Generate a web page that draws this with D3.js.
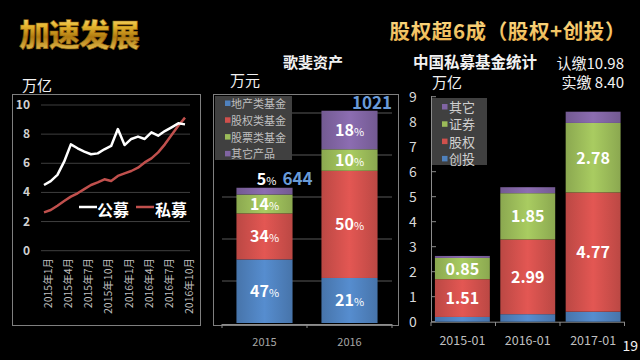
<!DOCTYPE html>
<html><head><meta charset="utf-8">
<script src="https://cdn.jsdelivr.net/npm/d3@7"></script>
<style>
html,body{margin:0;padding:0;background:#000;}
svg{display:block;}
text{font-family:"Noto Sans CJK SC","Noto Sans",sans-serif;}
</style></head>
<body>
<svg id="c" width="640" height="360"></svg>
<script>
// ---------- data ----------
const months = ["2015年1月","2015年2月","2015年3月","2015年4月","2015年5月","2015年6月","2015年7月","2015年8月","2015年9月","2015年10月","2015年11月","2015年12月","2016年1月","2016年2月","2016年3月","2016年4月","2016年5月","2016年6月","2016年7月","2016年8月","2016年9月","2016年10月"];
const monthTicks = ["2015年1月","2015年4月","2015年7月","2015年10月","2016年1月","2016年4月","2016年7月","2016年10月"];
const publicFund  = [4.51,4.78,5.2,6.11,7.3,7.03,6.8,6.62,6.68,6.96,7.19,8.35,7.25,7.67,7.83,7.67,8.12,7.89,8.21,8.47,8.74,8.67];
const privateFund = [2.63,2.79,3.09,3.41,3.71,3.94,4.23,4.51,4.69,4.9,4.78,5.13,5.31,5.47,5.7,6.06,6.34,6.75,7.3,7.94,8.58,9.13];
const lineTicks = [0,2,4,6,8,10];

const gfYears = ["2015","2016"];
const gfTotals = [644,1021];
const gfSeries = ["地产类基金","股权类基金","股票类基金","其它产品"];
const gfRealEstate = [47,21];
const gfEquity = [34,50];
const gfStock = [14,10];
const gfOther = [5,18];
const gfTicks = [0,200,400,600,800,1000];

const pfYears = ["2015-01","2016-01","2017-01"];
const pfSeries = ["创投","股权","证券","其它"];
const pfVC = [0.19,0.30,0.40];
const pfEquity = [1.51,2.99,4.77];
const pfSecurities = [0.85,1.85,2.78];
const pfOther = [0.08,0.24,0.45];
const pfTicks = [0,1,2,3,4,5,6,7,8,9];

// ---------- setup ----------
const svg = d3.select("#c");
const defs = svg.append("defs");
const gold = defs.append("linearGradient").attr("id","gold").attr("x1",0).attr("y1",0).attr("x2",0).attr("y2",1);
[["0%","#fff3b8"],["35%","#e8b830"],["60%","#b07a10"],["100%","#f5d466"]].forEach(s=>gold.append("stop").attr("offset",s[0]).attr("stop-color",s[1]));
const gold2 = defs.append("linearGradient").attr("id","gold2").attr("x1",0).attr("y1",0).attr("x2",0).attr("y2",1);
[["0%","#ffe08a"],["100%","#eab04a"]].forEach(s=>gold2.append("stop").attr("offset",s[0]).attr("stop-color",s[1]));

const colors = {blue:"#4f81bd", red:"#d0504c", green:"#9bbb59", purple:"#8064a2"};
function barGrad(id, base){
  const g = defs.append("linearGradient").attr("id",id).attr("x1",0).attr("y1",0).attr("x2",1).attr("y2",0);
  const c = d3.color(base);
  g.append("stop").attr("offset","0%").attr("stop-color",c.darker(0.3));
  g.append("stop").attr("offset","50%").attr("stop-color",c.brighter(0.25));
  g.append("stop").attr("offset","100%").attr("stop-color",c.darker(0.3));
}
barGrad("gb",colors.blue); barGrad("gr",colors.red); barGrad("gg",colors.green); barGrad("gp",colors.purple);
const fills = ["url(#gb)","url(#gr)","url(#gg)","url(#gp)"];
const solid = [colors.blue,colors.red,colors.green,colors.purple];

// ---------- titles ----------
svg.append("text").attr("x",19).attr("y",46).attr("font-size",31).attr("font-weight",900)
  .attr("fill","url(#gold)").attr("stroke","#8a5a08").attr("stroke-width",0.6).attr("letter-spacing",-1).text("加速发展");
svg.append("text").attr("x",626).attr("y",39).attr("text-anchor","end").attr("font-size",20.5).attr("font-weight",700)
  .attr("letter-spacing",0.6).attr("fill","url(#gold2)").text("股权超6成（股权+创投）");

// ---------- left: line chart ----------
svg.append("rect").attr("x",12.5).attr("y",94.5).attr("width",188).attr("height",231).attr("fill","none").attr("stroke","#7f7f7f");
svg.append("text").attr("x",22).attr("y",91).attr("font-size",15).attr("fill","#f2f2f2").text("万亿");
const lx = d3.scalePoint().domain(months).range([44,185]);
const ly = d3.scaleLinear().domain([0,10]).range([250.7,105]);
const lg = svg.append("g");
lg.selectAll("line.g").data(lineTicks).join("line").attr("x1",41).attr("x2",190)
  .attr("y1",d=>ly(d)).attr("y2",d=>ly(d)).attr("stroke","#3f3f3f").attr("stroke-width",1);
lg.selectAll("text.y").data(lineTicks).join("text").attr("x",30).attr("y",d=>ly(d)+4)
  .attr("text-anchor","end").attr("font-size",12).attr("font-weight",700).attr("fill","#d0d0d0").attr("font-family","Lato, sans-serif").text(d=>d);
lg.selectAll("text.x").data(monthTicks).join("text")
  .attr("transform",d=>`translate(${lx(d)+8},258) rotate(-90)`)
  .attr("text-anchor","end").attr("font-size",10.5).attr("fill","#bfbfbf").text(d=>d);
const line = d3.line().x((d,i)=>lx(months[i])).y(d=>ly(d));
lg.append("path").datum(privateFund).attr("d",line).attr("fill","none").attr("stroke","#c0504d").attr("stroke-width",2.5).attr("stroke-linejoin","round");
lg.append("path").datum(publicFund).attr("d",line).attr("fill","none").attr("stroke","#ffffff").attr("stroke-width",2.5).attr("stroke-linejoin","round");
// legend
lg.append("line").attr("x1",79).attr("x2",97).attr("y1",207).attr("y2",207).attr("stroke","#fff").attr("stroke-width",2.5);
lg.append("text").attr("x",97).attr("y",216).attr("font-size",16).attr("font-weight",700).attr("fill","#fff").text("公募");
lg.append("line").attr("x1",136).attr("x2",154).attr("y1",207).attr("y2",207).attr("stroke","#c0504d").attr("stroke-width",2.5);
lg.append("text").attr("x",155).attr("y",216).attr("font-size",16).attr("font-weight",700).attr("fill","#fff").text("私募");

// ---------- middle: 歌斐资产 ----------
svg.append("text").attr("x",313).attr("y",68).attr("text-anchor","middle").attr("font-size",15).attr("font-weight",700).attr("fill","#f2f2f2").text("歌斐资产");
svg.append("text").attr("x",230).attr("y",86).attr("font-size",15).attr("fill","#f2f2f2").text("万元");
svg.append("rect").attr("x",213.5).attr("y",94.5).attr("width",185).attr("height",231).attr("fill","none").attr("stroke","#7f7f7f");
const mx = d3.scaleBand().domain(gfYears).range([222,392]).paddingInner(0.34).paddingOuter(0.17);
const my = d3.scaleLinear().domain([0,1000]).range([323,113]);
const mg = svg.append("g");
mg.selectAll("line.g").data(gfTicks.slice(1)).join("line").attr("x1",222).attr("x2",392)
  .attr("y1",d=>my(d)).attr("y2",d=>my(d)).attr("stroke","#595959");
mg.append("line").attr("x1",222).attr("x2",392).attr("y1",324.5).attr("y2",324.5).attr("stroke","#8c8c8c");
mg.selectAll("line.t").data([222,307,392]).join("line").attr("x1",d=>d).attr("x2",d=>d).attr("y1",324).attr("y2",328).attr("stroke","#8c8c8c");
const gfPctArr = [gfRealEstate,gfEquity,gfStock,gfOther];
const gfRows = gfYears.map((y,i)=>{const r={year:y}; gfSeries.forEach((s,k)=>r[s]=gfPctArr[k][i]*gfTotals[i]/100); return r;});
const gfStack = d3.stack().keys(gfSeries)(gfRows);
gfStack.forEach((layer,k)=>{
  mg.selectAll(null).data(layer).join("rect")
    .attr("x",d=>mx(d.data.year)).attr("width",mx.bandwidth())
    .attr("y",d=>my(d[1])).attr("height",d=>my(d[0])-my(d[1])).attr("fill",fills[k]);
});
function pctLabel(g,x,y,v){
  const t=g.append("text").attr("x",x).attr("y",y).attr("text-anchor","middle").attr("fill","#fff").attr("font-family","Lato, sans-serif");
  t.append("tspan").attr("font-size",16).attr("font-weight",700).text(v);
  t.append("tspan").attr("font-size",11).text("%");
}
gfStack.forEach((layer,k)=>{
  layer.forEach((d,i)=>{
    const cx = mx(d.data.year)+mx.bandwidth()/2;
    const v = gfPctArr[k][i];
    if(k===3 && i===0){ pctLabel(mg,cx+2,my(d[1])-3,v); }
    else pctLabel(mg,cx,(my(d[0])+my(d[1]))/2+6,v);
  });
});
mg.append("text").attr("x",mx("2015")+mx.bandwidth()/2+18).attr("y",185).attr("font-size",17).attr("font-weight",700)
  .attr("fill","#6a9bd8").attr("font-family","Lato, sans-serif").text(gfTotals[0]);
mg.append("text").attr("x",392).attr("y",109).attr("text-anchor","end").attr("font-size",17).attr("font-weight",700)
  .attr("fill","#6a9bd8").attr("font-family","Lato, sans-serif").text(gfTotals[1]);
mg.selectAll("text.xl").data(gfYears).join("text").attr("x",d=>mx(d)+mx.bandwidth()/2).attr("y",346)
  .attr("text-anchor","middle").attr("font-size",11).attr("fill","#a6a6a6").attr("font-family","Lato, sans-serif").text(d=>d);
// legend
mg.append("rect").attr("x",215).attr("y",96).attr("width",77).attr("height",64).attr("fill","#404040");
gfSeries.forEach((s,k)=>{
  const yy = 104+k*16.8;
  mg.append("rect").attr("x",225).attr("y",yy-3.5).attr("width",5.5).attr("height",5.5).attr("fill",solid[k]);
  mg.append("text").attr("x",231).attr("y",yy+4).attr("font-size",11).attr("fill","#bfbfbf").text(s);
});

// ---------- right: 中国私募基金统计 ----------
svg.append("text").attr("x",413).attr("y",68).attr("font-size",15.5).attr("font-weight",700).attr("fill","#f2f2f2").text("中国私募基金统计");
svg.append("text").attr("x",624).attr("y",69).attr("text-anchor","end").attr("font-size",15).attr("fill","#f2f2f2").text("认缴10.98");
svg.append("text").attr("x",624).attr("y",88).attr("text-anchor","end").attr("font-size",15).attr("fill","#f2f2f2").text("实缴  8.40");
svg.append("text").attr("x",432).attr("y",88).attr("font-size",15).attr("fill","#f2f2f2").text("万亿");
const rx = d3.scaleBand().domain(pfYears).range([431,624.5]).paddingInner(0.16).paddingOuter(0.06);
const ry = d3.scaleLinear().domain([0,9]).range([321.7,96.7]);
const rg = svg.append("g");
rg.append("line").attr("x1",431.5).attr("x2",431.5).attr("y1",96).attr("y2",322).attr("stroke","#8c8c8c");
rg.append("line").attr("x1",431).attr("x2",625).attr("y1",322.2).attr("y2",322.2).attr("stroke","#8c8c8c");
rg.selectAll("line.yt").data(pfTicks).join("line").attr("x1",431).attr("x2",436).attr("y1",d=>ry(d)).attr("y2",d=>ry(d)).attr("stroke","#8c8c8c");
rg.selectAll("line.xt").data([431,495.5,560,624.5]).join("line").attr("x1",d=>d).attr("x2",d=>d).attr("y1",322).attr("y2",326).attr("stroke","#8c8c8c");
rg.selectAll("text.yl").data(pfTicks).join("text").attr("x",413).attr("y",d=>ry(d)+5).attr("text-anchor","middle")
  .attr("font-size",14).attr("fill","#d9d9d9").attr("font-family","Lato, sans-serif").text(d=>d);
const pfArr = [pfVC,pfEquity,pfSecurities,pfOther];
const pfRows = pfYears.map((y,i)=>{const r={year:y}; pfSeries.forEach((s,k)=>r[s]=pfArr[k][i]); return r;});
const pfStack = d3.stack().keys(pfSeries)(pfRows);
pfStack.forEach((layer,k)=>{
  rg.selectAll(null).data(layer).join("rect")
    .attr("x",d=>rx(d.data.year)).attr("width",rx.bandwidth())
    .attr("y",d=>ry(d[1])).attr("height",d=>ry(d[0])-ry(d[1])).attr("fill",fills[k]);
  if(k===1||k===2){
    rg.selectAll(null).data(layer).join("text")
      .attr("x",d=>rx(d.data.year)+rx.bandwidth()/2).attr("y",d=>(ry(d[0])+ry(d[1]))/2+6)
      .attr("text-anchor","middle").attr("font-size",16).attr("font-weight",700).attr("fill","#fff")
      .attr("font-family","Lato, sans-serif").text((d,i)=>pfArr[k][i].toFixed(2));
  }
});
rg.selectAll("text.xl").data(pfYears).join("text").attr("x",d=>rx(d)+rx.bandwidth()/2).attr("y",345)
  .attr("text-anchor","middle").attr("font-size",12.5).attr("fill","#bfbfbf").attr("font-family","Lato, sans-serif").text(d=>d);
// legend
rg.append("rect").attr("x",432).attr("y",98).attr("width",55).attr("height",67).attr("fill","#404040");
[3,2,1,0].forEach((k,j)=>{
  const yy = 107+j*17.3;
  rg.append("rect").attr("x",442).attr("y",yy-3).attr("width",5.5).attr("height",5.5).attr("fill",solid[k]);
  rg.append("text").attr("x",449).attr("y",yy+5).attr("font-size",13).attr("fill","#d0d0d0").text(pfSeries[k]);
});
svg.append("text").attr("x",638).attr("y",351).attr("text-anchor","end").attr("font-size",14).attr("fill","#f2f2f2").attr("font-family","Lato, sans-serif").text("19");
</script>
</body></html>
